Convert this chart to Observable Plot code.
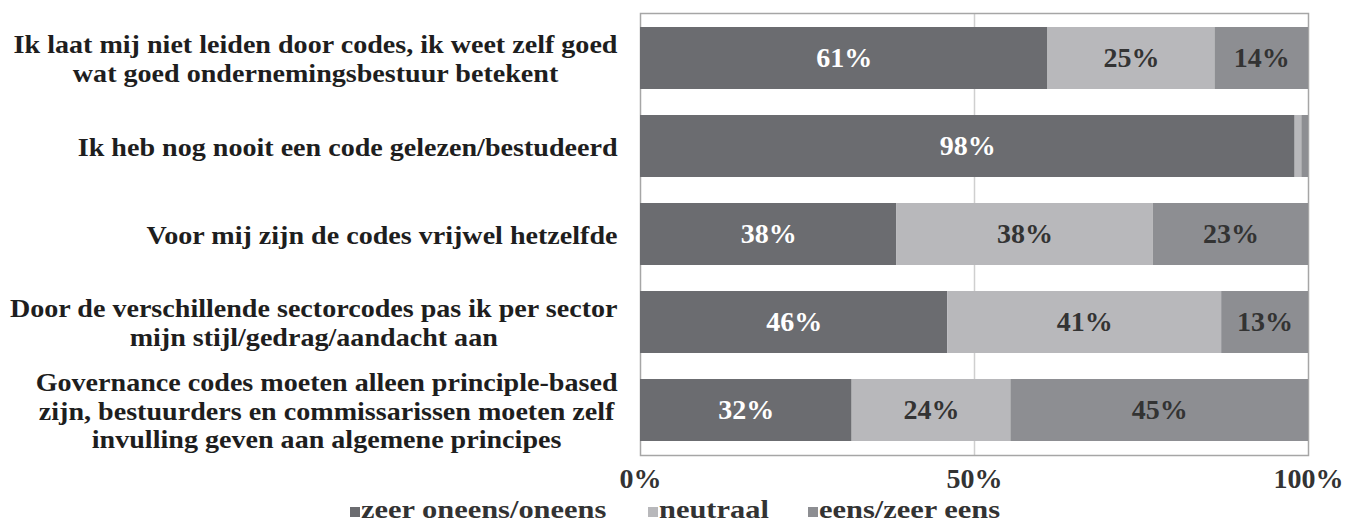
<!DOCTYPE html>
<html><head><meta charset="utf-8">
<script src="https://cdn.jsdelivr.net/npm/d3@7"></script>
<script src="https://cdn.jsdelivr.net/npm/@observablehq/plot@0.6"></script>
<style>
body{margin:0;background:#fff;font-family:"Liberation Serif",serif;overflow:hidden;}
#legend{display:flex;height:30px;align-items:center;margin-left:350px;font-weight:bold;font-size:26px;color:#333;line-height:30px;}
.item{display:flex;align-items:center;flex:none}
.sw{width:10px;height:10px;margin-right:1px;margin-top:3px;flex:none}
.lt{display:inline-block;transform:scaleX(1.17);transform-origin:left center;white-space:nowrap}
</style></head><body><div id="chart"></div><div id="legend"></div>
<script>
const questions = [
  "Ik laat mij niet leiden door codes, ik weet zelf goed\nwat goed ondernemingsbestuur betekent",
  "Ik heb nog nooit een code gelezen/bestudeerd",
  "Voor mij zijn de codes vrijwel hetzelfde",
  "Door de verschillende sectorcodes pas ik per sector\nmijn stijl/gedrag/aandacht aan",
  "Governance codes moeten alleen principle-based\nzijn, bestuurders en commissarissen moeten zelf\ninvulling geven aan algemene principes"
];
const seriesNames = ["zeer oneens/oneens", "neutraal", "eens/zeer eens"];
const zeerOneens = [61, 98, 38, 46, 32];
const neutraal = [25, 1, 38, 41, 24];
const eens = [14, 1, 23, 13, 45];
const colors = ["#6b6c70", "#b8b8bb", "#8d8e92"];
const xTicks = [0, 0.5, 1];
const gridTicks = [0.5];

const seriesValues = [zeerOneens, neutraal, eens];
const data = [];
questions.forEach((q, i) => seriesValues.forEach((arr, j) =>
  data.push({question: q, category: seriesNames[j], value: arr[i]})));

const st = {x: "value", y: "question", z: "category", offset: "normalize"};
const pct = d => Math.round(d * 100) + "%";

const plot = Plot.plot({
  width: 1350, height: 495,
  marginLeft: 640, marginRight: 42, marginTop: 13, marginBottom: 40,
  style: {fontFamily: "'Liberation Serif', serif", fontWeight: "bold", background: "#fff"},
  x: {domain: [0, 1], axis: null},
  y: {domain: questions, paddingInner: 0.3, paddingOuter: 0.15, axis: null},
  color: {domain: seriesNames, range: colors},
  marks: [
    Plot.ruleX(gridTicks, {stroke: "#cfcfcf", strokeWidth: 1.5}),
    Plot.frame({stroke: "#a6a6a6", strokeWidth: 1.5}),
    Plot.barX(data, Plot.stackX({...st, fill: "category"})),
    Plot.text(data, Plot.stackX({...st,
      text: d => (d.category === seriesNames[0] && d.value >= 5) ? d.value + "%" : "",
      fill: "white", fontSize: 28})),
    Plot.text(data, Plot.stackX({...st,
      text: d => (d.category !== seriesNames[0] && d.value >= 5) ? d.value + "%" : "",
      fill: "#333", fontSize: 28})),
    Plot.axisX({ticks: xTicks, tickFormat: pct, tickSize: 0, tickPadding: 13,
      fontSize: 28, fill: "#333", label: null}),
    Plot.text(questions, {y: d => d, text: d => d, frameAnchor: "left",
      textAnchor: "middle", dx: -23, fontSize: 26, lineHeight: 1.1,
      fill: "#1e1e1e", className: "ylab"})
  ]
});
document.getElementById("chart").appendChild(plot);

// Excel-style label block: lines centered within a right-aligned box,
// slightly widened glyphs like the reference typeface
const stretch = 1.08;
const qset = new Set(questions);
plot.querySelectorAll("text").forEach(t => {
  const sp = [...t.querySelectorAll("tspan")];
  const full = sp.length ? sp.map(s => s.textContent).join("\n") : t.textContent;
  if (!qset.has(full)) return;
  const parts = sp.length ? sp : [t];
  const lens = parts.map(s => s.getComputedTextLength() * stretch);
  const W = Math.max(...lens);
  parts.forEach((s, k) => {
    s.setAttribute("textLength", lens[k]);
    s.setAttribute("lengthAdjust", "spacingAndGlyphs");
    s.setAttribute("x", -W / 2);
  });
});

const legend = document.getElementById("legend");
const itemWidths = [298, 160, null];
seriesNames.forEach((n, i) => {
  const it = document.createElement("div"); it.className = "item";
  if (itemWidths[i]) it.style.width = itemWidths[i] + "px";
  const sw = document.createElement("div"); sw.className = "sw"; sw.style.background = colors[i];
  const tx = document.createElement("span"); tx.className = "lt"; tx.textContent = n;
  it.appendChild(sw); it.appendChild(tx); legend.appendChild(it);
});
</script></body></html>
